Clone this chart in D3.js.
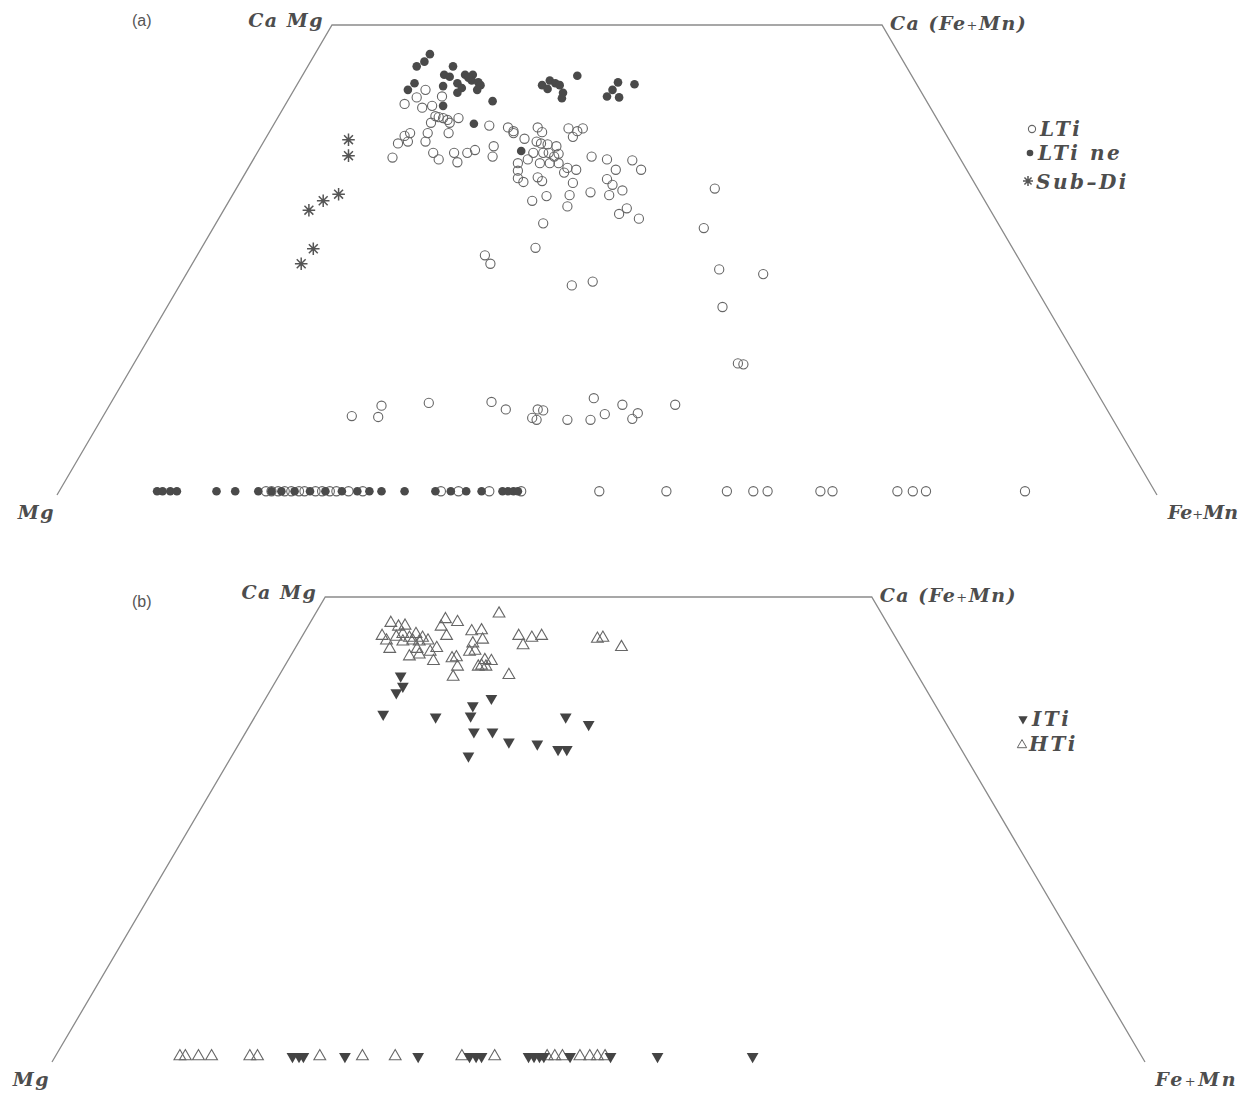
<!DOCTYPE html>
<html>
<head>
<meta charset="utf-8">
<script src="https://cdn.jsdelivr.net/npm/d3@7"></script>
<style>
  body { margin: 0; background: #fff; }
  .lab { font-family: "DejaVu Serif", serif; font-weight: bold; font-style: italic; fill: #4d4d4d; }
  .tag { font-family: "Liberation Sans", Arial, sans-serif; fill: #555; }
</style>
</head>
<body>
<script>
var width = 1240;
var height = 1093;

// quadrilateral outline: horizontal position (0 = Mg, 100 = Fe+Mn) and Wo (Ca) content
var outlineX  = [0, 25, 75, 100];
var outlineWo = [0, 50, 50, 0];

// ---- panel (a) ----
var ltiOpen = [
  [33.5,43.1],[32.7,42.3],[35.0,42.4],[31.6,41.6],[33.2,41.2],[34.1,41.4],[36.5,40.1],[34.4,40.3],
  [34.7,40.2],[35.1,40.1],[35.5,39.9],[35.7,39.6],[34.0,39.6],[39.3,39.3],[35.6,38.5],[33.7,38.5],
  [32.1,38.5],[31.6,38.2],[31.9,37.6],[31.0,37.4],[33.5,37.6],[30.5,35.9],[34.2,36.4],[34.7,35.7],
  [36.1,36.4],[36.4,35.4],[37.3,36.4],[38.0,36.7],[39.7,37.1],[39.6,36.0],[38.9,25.5],[39.4,24.6],
  [41.0,39.1],[41.5,38.7],[41.5,38.5],[43.7,39.1],[44.1,38.6],[46.5,39.0],[47.3,38.7],[47.8,39.0],
  [46.9,38.1],[42.5,37.9],[43.6,37.6],[44.0,37.4],[44.6,37.3],[45.4,37.1],[43.3,36.4],[44.2,36.4],
  [44.7,36.4],[45.6,36.3],[41.9,35.3],[42.8,35.7],[43.9,35.3],[44.8,35.3],[45.6,35.3],[45.2,36.0],
  [41.9,34.5],[41.9,33.7],[42.4,33.3],[43.7,33.8],[44.1,33.4],[46.4,34.8],[46.1,34.3],[47.2,34.6],
  [48.6,36.0],[50.0,35.7],[50.8,34.6],[52.3,35.6],[53.1,34.6],[46.9,33.2],[46.6,31.9],[46.4,30.7],
  [44.5,31.8],[43.2,31.3],[48.5,32.2],[50.0,33.6],[50.5,33.0],[50.2,31.9],[51.4,32.4],[51.8,30.5],
  [51.1,29.9],[52.9,29.4],[44.2,28.9],[43.5,26.3],[46.8,22.3],[48.7,22.7],
  [59.8,32.6],[58.8,28.4],[60.2,24.0],[64.2,23.5],[60.5,20.0],[61.9,14.0],[62.4,13.9],
  [26.8,8.4],[29.5,9.5],[29.2,8.3],[33.8,9.8],[39.5,9.9],[40.8,9.1],[43.7,9.1],[44.2,9.0],
  [43.2,8.2],[43.6,8.0],[46.4,8.0],[48.5,8.0],[48.8,10.3],[49.8,8.6],[51.4,9.6],[52.8,8.7],
  [52.3,8.1],[56.2,9.6],
  [19.0,0.4],[19.5,0.4],[20.1,0.4],[20.7,0.4],[21.3,0.4],[22.0,0.4],[22.5,0.4],[23.5,0.4],
  [24.1,0.4],[24.8,0.4],[25.4,0.4],[26.5,0.4],[27.8,0.4],[34.9,0.4],[36.5,0.4],[39.3,0.4],
  [42.2,0.4],[49.3,0.4],[55.4,0.4],[60.9,0.4],[63.3,0.4],[64.6,0.4],[69.4,0.4],[70.5,0.4],
  [76.4,0.4],[77.8,0.4],[79.0,0.4],[88.0,0.4]
];
var ltineFilled = [
  [33.9,46.9],[33.4,46.1],[32.7,45.6],[36.0,45.6],[32.5,43.8],[31.9,43.1],[35.1,43.5],[35.2,44.7],
  [35.7,44.5],[36.4,43.8],[36.8,43.3],[36.4,42.8],[37.1,44.7],[37.8,44.7],[37.7,44.1],[38.3,43.9],
  [38.5,43.6],[38.2,43.1],[37.4,44.4],[35.1,41.4],[39.6,41.9],[37.9,39.5],[44.1,43.6],[44.8,44.1],
  [45.3,43.8],[45.7,43.6],[44.6,43.2],[46.0,42.8],[45.9,42.2],[47.3,44.6],[51.0,43.9],[52.5,43.7],
  [50.5,43.1],[50.0,42.4],[51.1,42.3],[42.2,36.6],
  [9.1,0.4],[9.6,0.4],[10.3,0.4],[10.9,0.4],[14.5,0.4],[16.2,0.4],[18.3,0.4],[19.5,0.4],
  [20.4,0.4],[21.6,0.4],[23.0,0.4],[24.4,0.4],[25.9,0.4],[27.3,0.4],[28.4,0.4],[29.5,0.4],
  [31.6,0.4],[34.4,0.4],[35.8,0.4],[37.2,0.4],[38.6,0.4],[40.5,0.4],[41.0,0.4],[41.5,0.4],[41.9,0.4]
];
var subDi = [[26.5,37.8],[26.5,36.1],[25.6,32.0],[24.2,31.3],[22.9,30.3],[23.3,26.2],[22.2,24.6]];

// ---- panel (b) ----
var htiOpen = [
  [31.0,47.1],[31.7,46.7],[32.3,46.8],[30.2,45.7],[30.6,45.2],[31.5,45.6],[32.1,45.9],[32.7,45.5],
  [33.3,45.9],[33.9,45.5],[34.4,45.2],[30.9,44.3],[32.1,45.1],[33.0,45.2],[33.6,45.1],[32.7,43.5],
  [33.6,43.7],[33.4,44.3],[34.6,44.0],[35.2,44.4],[34.9,43.0],[36.0,47.5],[35.6,46.7],[36.1,45.7],
  [37.1,47.2],[38.4,46.2],[39.3,46.3],[39.4,45.3],[38.5,44.9],[38.2,44.0],[38.7,44.1],[36.6,43.3],
  [37.0,43.4],[37.1,42.4],[36.7,41.3],[39.0,42.4],[39.3,42.5],[39.7,42.4],[39.6,43.1],[40.2,43.0],
  [40.9,48.1],[42.7,45.7],[43.1,44.7],[43.9,45.5],[44.8,45.7],[41.8,41.5],[49.9,45.4],[50.4,45.5],
  [52.1,44.5],
  [11.7,0.5],[12.2,0.5],[13.4,0.5],[14.6,0.5],[18.1,0.5],[18.8,0.5],[24.5,0.5],[28.4,0.5],
  [31.4,0.5],[37.5,0.5],[40.5,0.5],[45.3,0.5],[46.0,0.5],[46.7,0.5],[48.3,0.5],[49.2,0.5],
  [49.9,0.5],[50.6,0.5]
];
var itiFilled = [
  [31.9,41.4],[32.1,40.3],[31.5,39.6],[30.3,37.3],[35.1,37.0],[38.5,38.2],[40.2,39.0],[38.3,37.1],
  [38.6,35.4],[40.3,35.4],[41.8,34.3],[44.4,34.1],[46.3,33.5],[47.1,33.5],[47.0,37.0],[49.1,36.2],
  [38.1,32.8],
  [22.0,0.5],[22.6,0.5],[23.0,0.5],[26.8,0.5],[33.5,0.5],[38.2,0.5],[38.8,0.5],[39.3,0.5],
  [43.6,0.5],[44.1,0.5],[44.6,0.5],[45.0,0.5],[47.4,0.5],[51.1,0.5],[55.4,0.5],[64.1,0.5]
];

var svg = d3.select("body").append("svg")
      .attr("width", width)
      .attr("height", height);

var lineCol = "#8a8a8a";
var markCol = "#666";

// 8-armed asterisk for Sub-Di
var star = {
  draw: function(ctx, size) {
    var r = Math.sqrt(size) * 0.6, d = r * Math.SQRT1_2;
    ctx.moveTo(-r, 0); ctx.lineTo(r, 0);
    ctx.moveTo(0, -r); ctx.lineTo(0, r);
    ctx.moveTo(-d, -d); ctx.lineTo(d, d);
    ctx.moveTo(-d, d); ctx.lineTo(d, -d);
  }
};

function panel(x0, x1, yBase, yTop) {
  var x = d3.scaleLinear().domain([0, 100]).range([x0, x1]);
  var y = d3.scaleLinear().domain([0, 50]).range([yBase, yTop]);
  var g = svg.append("g");
  var pts = outlineX.map(function(d, i){ return [x(d), y(outlineWo[i])]; });
  g.append("path")
    .attr("d", d3.line()(pts))
    .attr("fill", "none")
    .attr("stroke", lineCol)
    .attr("stroke-width", 1.3);
  return { g: g, x: x, y: y };
}

function lab(g, px, py, parts, anchor, size, spacing) {
  var t = g.append("text").attr("class", "lab")
    .attr("x", px).attr("y", py)
    .attr("text-anchor", anchor || "start")
    .style("font-size", (size || 19) + "px")
    .style("letter-spacing", (spacing == null ? 1.5 : spacing) + "px");
  parts.forEach(function(p){
    var s = t.append("tspan").text(p.t);
    if (p.small) s.style("font-size", "13px").style("font-style", "normal").style("font-weight", "normal");
  });
  return t;
}

function cornerLabels(g, P, feSize, feSpacing) {
  lab(g, P.x(25) - 8, P.y(50) + 2, [{t:"Ca Mg"}], "end");
  lab(g, P.x(75) + 8, P.y(50) + 5, [{t:"Ca ("}, {t:"Fe"}, {t:"+", small:true}, {t:"Mn)"}]);
  lab(g, P.x(0) - 2, P.y(0) + 24, [{t:"Mg"}], "end", 19, 1.5);
  lab(g, 1238, P.y(0) + 24, [{t:"Fe"}, {t:"+", small:true}, {t:"Mn"}], "end", feSize, feSpacing);
}

// ---------- panel (a) ----------
var A = panel(57, 1157, 495, 25);
A.g.append("text").attr("class", "tag").attr("x", 132).attr("y", 26)
  .style("font-size", "16px").text("(a)");
cornerLabels(A.g, A, 19, 0);

A.g.selectAll("circle.lti").data(ltiOpen).enter().append("circle")
  .attr("class", "lti")
  .attr("cx", function(d){ return A.x(d[0]); })
  .attr("cy", function(d){ return A.y(d[1]); })
  .attr("r", 4.6)
  .attr("fill", "none")
  .attr("stroke", markCol)
  .attr("stroke-width", 1.1);

A.g.selectAll("circle.ltine").data(ltineFilled).enter().append("circle")
  .attr("class", "ltine")
  .attr("cx", function(d){ return A.x(d[0]); })
  .attr("cy", function(d){ return A.y(d[1]); })
  .attr("r", 4.3)
  .attr("fill", "#4a4a4a");

A.g.selectAll("path.subdi").data(subDi).enter().append("path")
  .attr("class", "subdi")
  .attr("d", d3.symbol().type(star).size(110))
  .attr("transform", function(d){ return "translate(" + A.x(d[0]) + "," + A.y(d[1]) + ")"; })
  .attr("fill", "none")
  .attr("stroke", "#555")
  .attr("stroke-width", 1.5);

// legend (a)
var legA = A.g.append("g");
legA.append("circle").attr("cx", 1032).attr("cy", 129).attr("r", 3.6)
  .attr("fill", "none").attr("stroke", markCol).attr("stroke-width", 1.1);
lab(legA, 1040, 136, [{t:"LTi"}], "start", 20, 2.5);
legA.append("circle").attr("cx", 1030).attr("cy", 153).attr("r", 3.3).attr("fill", "#4a4a4a");
lab(legA, 1038, 160, [{t:"LTi ne"}], "start", 20, 2.5);
legA.append("path").attr("d", d3.symbol().type(star).size(70)())
  .attr("transform", "translate(1028,181)")
  .attr("fill", "none").attr("stroke", "#555").attr("stroke-width", 1.5);
lab(legA, 1036, 189, [{t:"Sub\u2013Di"}], "start", 20, 2.5);

// ---------- panel (b) ----------
var B = panel(52, 1145, 1062, 597);
B.g.append("text").attr("class", "tag").attr("x", 132).attr("y", 607)
  .style("font-size", "16px").text("(b)");
cornerLabels(B.g, B, 19, 2.5);

var triUp = d3.symbol().type(d3.symbolTriangle).size(60);
B.g.selectAll("path.hti").data(htiOpen).enter().append("path")
  .attr("class", "hti")
  .attr("d", triUp)
  .attr("transform", function(d){ return "translate(" + B.x(d[0]) + "," + (B.y(d[1]) - 1) + ")"; })
  .attr("fill", "none")
  .attr("stroke", markCol)
  .attr("stroke-width", 1.1);

B.g.selectAll("path.iti").data(itiFilled).enter().append("path")
  .attr("class", "iti")
  .attr("d", triUp)
  .attr("transform", function(d){ return "translate(" + B.x(d[0]) + "," + (B.y(d[1]) - 1) + ") rotate(180)"; })
  .attr("fill", "#444");

// legend (b)
var legB = B.g.append("g");
legB.append("path").attr("d", d3.symbol().type(d3.symbolTriangle).size(38)())
  .attr("transform", "translate(1023,719) rotate(180)").attr("fill", "#444");
lab(legB, 1032, 726, [{t:"ITi"}], "start", 20, 2.5);
legB.append("path").attr("d", d3.symbol().type(d3.symbolTriangle).size(38)())
  .attr("transform", "translate(1022,745)")
  .attr("fill", "none").attr("stroke", markCol).attr("stroke-width", 1);
lab(legB, 1029, 751, [{t:"HTi"}], "start", 20, 2.5);
</script>
</body>
</html>
